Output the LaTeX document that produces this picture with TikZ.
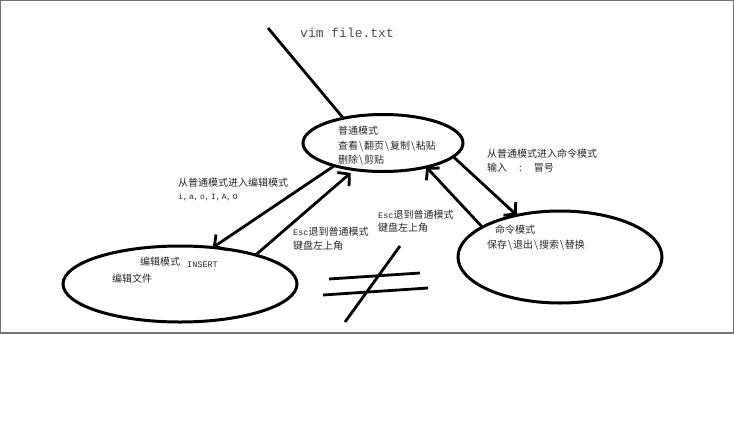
\documentclass[tikz,border=0pt]{standalone}
\usepackage{fontspec}
\newfontfamily\cjk{Noto Sans CJK SC}
\newfontfamily\monof{Liberation Mono}
\usetikzlibrary{shapes.geometric,arrows.meta}
\newcommand{\bsl}{\hspace{1pt}\textbackslash\hspace{1pt}}
\tikzset{
  oval/.style={draw, ellipse, line width=3pt, inner sep=0pt, outer sep=0pt},
  conn/.style={line width=2.8pt, -{Straight Barb[length=8pt,width=18pt]}},
  plain/.style={line width=2.8pt},
  cjklabel/.style={anchor=west, inner sep=0pt, font=\cjk\fontsize{10}{10}\selectfont, text=black!85},
  latin/.style={anchor=west, inner sep=0pt, font=\monof\fontsize{8.5}{8.5}\selectfont, text=black!85},
}
\begin{document}
\begin{tikzpicture}[x=1pt,y=-1pt]
\useasboundingbox (0,0) rectangle (734,429);
\fill[white] (0,0) rectangle (734,429);
\draw[line width=1.2pt, black!55] (0.6,0.6) rectangle (733.4,333);

% ellipses
\node[oval, minimum width=160pt, minimum height=57pt] (normal) at (383,143) {};
\node[oval, minimum width=204pt, minimum height=92pt] (command) at (560,257) {};
\node[oval, minimum width=234pt, minimum height=76pt] (edit) at (180,284) {};

% start line
\coordinate (start) at (268,28);
\node[anchor=west, inner sep=0pt, font=\monof\fontsize{13}{13}\selectfont, text=black!70] (vim) at (300,33) {vim file.txt};
\draw[plain] (start) -- (normal.148.6);

% texts in normal ellipse
\node[cjklabel] (n1) at (338,131) {普通模式};
\node[cjklabel] (n2) at (338,146) {查看\bsl 翻页\bsl 复制\bsl 粘贴};
\node[cjklabel] (n3) at (338,160) {删除\bsl 剪贴};

% texts in command ellipse
\node[cjklabel] (c1) at (495,230) {命令模式};
\node[cjklabel] (c2) at (487,245) {保存\bsl 退出\bsl 搜索\bsl 替换};

% texts in edit ellipse
\node[cjklabel] (e1) at (140,262) {编辑模式};
\node[latin] (e2) at (187,265) {INSERT};
\node[cjklabel] (e3) at (112,279) {编辑文件};

% connectors
\draw[conn] (normal.205) -- (edit.48);
\draw[conn, shorten >=5pt] (edit.21.7) -- (normal.223);
\draw[conn] (command.159.6) -- (normal.-29);
\draw[conn] (normal.-11.8) -- (command.136.9);

% connector labels
\node[cjklabel] (l1) at (178,183) {从普通模式进入编辑模式};
\node[latin, font=\monof\fontsize{8}{8}\selectfont] (l2) at (178,197) {i,\,a,\,o,\,I,\,A,\,O};
\node[cjklabel] (l3) at (487,154) {从普通模式进入命令模式};
\node[cjklabel] (l4) at (487,168) {输入\hspace{12pt}:\hspace{12pt}冒号};
\node[cjklabel] (l5) at (378,215) {{\monof\fontsize{8.5}{8.5}\selectfont Esc}退到普通模式};
\node[cjklabel] (l6) at (378,228) {键盘左上角};
\node[cjklabel] (l7) at (293,232) {{\monof\fontsize{8.5}{8.5}\selectfont Esc}退到普通模式};
\node[cjklabel] (l8) at (293,246) {键盘左上角};

% not-equal sign
\draw[plain] (329,279) -- (420,273);
\draw[plain] (323,295) -- (428,288);
\draw[plain] (400,246) -- (345,322);
\end{tikzpicture}
\end{document}
